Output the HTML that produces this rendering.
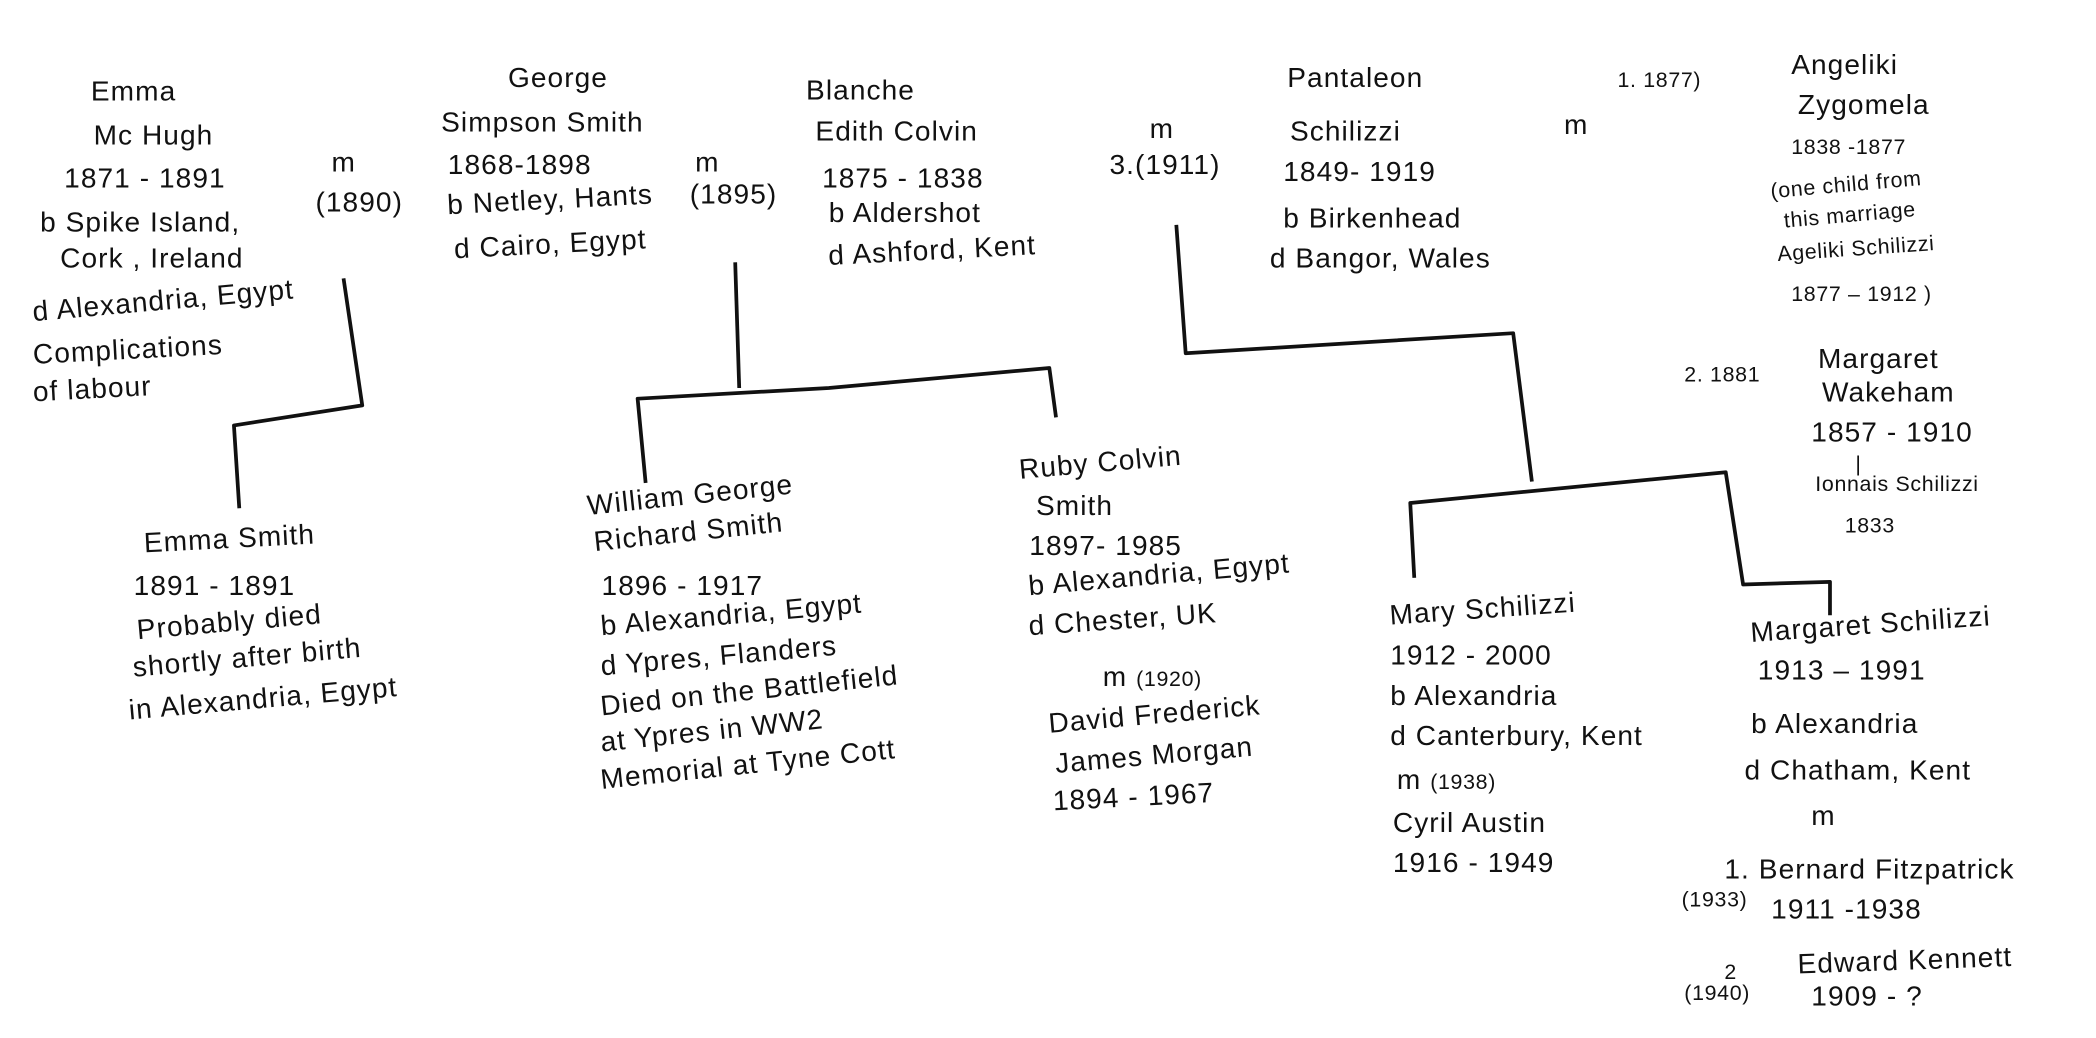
<!DOCTYPE html>
<html><head><meta charset="utf-8"><style>
html,body{margin:0;padding:0;background:#fff;}
svg{display:block}
text{font-family:"Liberation Sans",sans-serif;font-size:21px;letter-spacing:0.8px;fill:#111;}
.s{font-size:16px;letter-spacing:0.5px}
</style></head><body>
<svg width="2096" height="1038" viewBox="0 0 1568 776" xmlns="http://www.w3.org/2000/svg">
<rect width="1568" height="776" fill="#fff"/>
<g fill="none" stroke="#111" stroke-width="2.8" stroke-linejoin="round">
<polyline points="257,208 271,303 175,318 179,380"/>
<polyline points="550,196 553,290"/>
<polyline points="483,361 477,298 620,290 785,275 790,312"/>
<polyline points="880,168 887,264 1132,249 1146,360"/>
<polyline points="1058,432 1055,376 1291,353 1304,437 1369,435 1369,460"/>
</g>
<g>
<text x="68" y="75">Emma</text>
<text x="70" y="108">Mc Hugh</text>
<text x="48" y="140">1871 - 1891</text>
<text x="30" y="173">b Spike Island,</text>
<text x="45" y="200">Cork , Ireland</text>
<text x="25" y="240" transform="rotate(-5 25 240)">d Alexandria, Egypt</text>
<text x="25" y="272" transform="rotate(-3 25 272)">Complications</text>
<text x="25" y="300" transform="rotate(-3 25 300)">of labour</text>
<text x="248" y="128">m</text>
<text x="236" y="158">(1890)</text>

<text x="380" y="65">George</text>
<text x="330" y="98">Simpson Smith</text>
<text x="335" y="130">1868-1898</text>
<text x="335" y="160" transform="rotate(-3 335 160)">b Netley, Hants</text>
<text x="340" y="193" transform="rotate(-3 340 193)">d Cairo, Egypt</text>
<text x="520" y="128">m</text>
<text x="516" y="152">(1895)</text>

<text x="603" y="74">Blanche</text>
<text x="610" y="105">Edith Colvin</text>
<text x="615" y="140">1875 - 1838</text>
<text x="620" y="166">b Aldershot</text>
<text x="620" y="198" transform="rotate(-3 620 198)">d Ashford, Kent</text>
<text x="860" y="103">m</text>
<text x="830" y="130">3.(1911)</text>

<text x="963" y="65">Pantaleon</text>
<text x="965" y="105">Schilizzi</text>
<text x="960" y="135">1849- 1919</text>
<text x="960" y="170">b Birkenhead</text>
<text x="950" y="200">d Bangor, Wales</text>
<text x="1170" y="100">m</text>

<text x="1210" y="65" class="s">1. 1877)</text>
<text x="1340" y="55">Angeliki</text>
<text x="1345" y="85">Zygomela</text>
<text x="1340" y="115" class="s">1838 -1877</text>
<text x="1325" y="148" class="s" transform="rotate(-5 1325 148)">(one child from</text>
<text x="1335" y="170" class="s" transform="rotate(-5 1335 170)">this marriage</text>
<text x="1330" y="195" class="s" transform="rotate(-4 1330 195)">Ageliki Schilizzi</text>
<text x="1340" y="225" class="s">1877 – 1912 )</text>
<text x="1260" y="285" class="s">2. 1881</text>
<text x="1360" y="275">Margaret</text>
<text x="1363" y="300">Wakeham</text>
<text x="1355" y="330">1857 - 1910</text>
<text x="1388" y="352" class="s">|</text>
<text x="1358" y="367" class="s">Ionnais Schilizzi</text>
<text x="1380" y="398" class="s">1833</text>

<text x="108" y="413" transform="rotate(-3 108 413)">Emma Smith</text>
<text x="100" y="445">1891 - 1891</text>
<text x="103" y="478" transform="rotate(-5 103 478)">Probably died</text>
<text x="100" y="506" transform="rotate(-5 100 506)">shortly after birth</text>
<text x="97" y="538" transform="rotate(-5 97 538)">in Alexandria, Egypt</text>

<text x="440" y="385" transform="rotate(-6 440 385)">William George</text>
<text x="445" y="412" transform="rotate(-6 445 412)">Richard Smith</text>
<text x="450" y="445">1896 - 1917</text>
<text x="450" y="475" transform="rotate(-5 450 475)">b Alexandria, Egypt</text>
<text x="450" y="505" transform="rotate(-5 450 505)">d Ypres, Flanders</text>
<text x="450" y="535" transform="rotate(-6 450 535)">Died on the Battlefield</text>
<text x="450" y="562" transform="rotate(-6 450 562)">at Ypres in WW2</text>
<text x="450" y="590" transform="rotate(-6 450 590)">Memorial at Tyne Cott</text>

<text x="763" y="358" transform="rotate(-5 763 358)">Ruby Colvin</text>
<text x="775" y="385">Smith</text>
<text x="770" y="415">1897- 1985</text>
<text x="770" y="445" transform="rotate(-5 770 445)">b Alexandria, Egypt</text>
<text x="770" y="475" transform="rotate(-4 770 475)">d Chester, UK</text>
<text x="825" y="513">m <tspan class="s">(1920)</tspan></text>
<text x="785" y="548" transform="rotate(-5 785 548)">David Frederick</text>
<text x="790" y="578" transform="rotate(-5 790 578)">James Morgan</text>
<text x="788" y="606" transform="rotate(-3 788 606)">1894 - 1967</text>

<text x="1040" y="467" transform="rotate(-4 1040 467)">Mary Schilizzi</text>
<text x="1040" y="497">1912 - 2000</text>
<text x="1040" y="527">b Alexandria</text>
<text x="1040" y="557">d Canterbury, Kent</text>
<text x="1045" y="590">m <tspan class="s">(1938)</tspan></text>
<text x="1042" y="622">Cyril Austin</text>
<text x="1042" y="652">1916 - 1949</text>

<text x="1310" y="480" transform="rotate(-4 1310 480)">Margaret Schilizzi</text>
<text x="1315" y="508">1913 – 1991</text>
<text x="1310" y="548">b Alexandria</text>
<text x="1305" y="583">d Chatham, Kent</text>
<text x="1355" y="617">m</text>
<text x="1290" y="657">1. Bernard Fitzpatrick</text>
<text x="1258" y="678" class="s">(1933)</text>
<text x="1325" y="687">1911 -1938</text>
<text x="1290" y="732" class="s">2</text>
<text x="1345" y="728" transform="rotate(-2 1345 728)">Edward Kennett</text>
<text x="1260" y="748" class="s">(1940)</text>
<text x="1355" y="752">1909 - ?</text>
</g>
</svg>
</body></html>
